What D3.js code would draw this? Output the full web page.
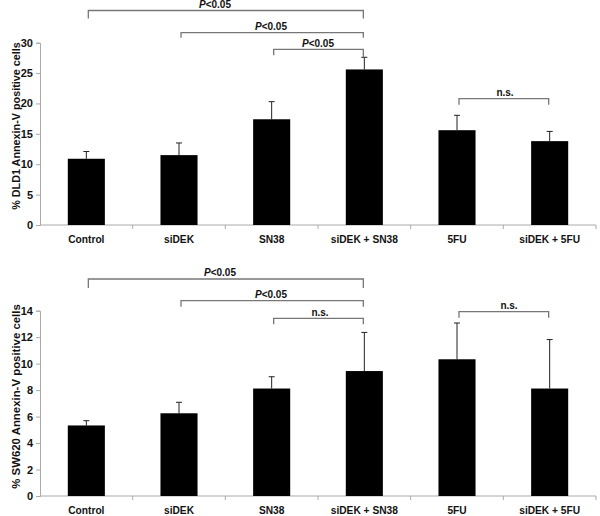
<!DOCTYPE html>
<html>
<head>
<meta charset="utf-8">
<script src="https://cdnjs.cloudflare.com/ajax/libs/d3/7.8.5/d3.min.js"></script>
<style>
  body { margin: 0; background: #fff; }
  text { font-family: "Liberation Sans", Arial, sans-serif; font-weight: bold; }
</style>
</head>
<body>
<script>
// groups shared by both panels
var groups = ["Control", "siDEK", "SN38", "siDEK + SN38", "5FU", "siDEK + 5FU"];

// DLD1 panel
var dldMean = [10.9, 11.5, 17.4, 25.6, 15.6, 13.8];
var dldErr  = [1.2, 2.0, 2.9, 2.0, 2.45, 1.6];
var dldTicks = [0, 5, 10, 15, 20, 25, 30];
// SW620 panel
var swMean = [5.33, 6.25, 8.12, 9.44, 10.33, 8.12];
var swErr  = [0.36, 0.83, 0.89, 2.92, 2.74, 3.7];
var swTicks = [0, 2, 4, 6, 8, 10, 12, 14];

// brackets: [from group, to group, label]
var dldBrackets = [[0, 3, "P<0.05"], [1, 3, "P<0.05"], [2, 3, "P<0.05"], [4, 5, "n.s."]];
var swBrackets  = [[0, 3, "P<0.05"], [1, 3, "P<0.05"], [2, 3, "n.s."], [4, 5, "n.s."]];

var svg = d3.select("body").append("svg")
    .attr("width", 600)
    .attr("height", 516);

function drawPanel(opt){
  var x = d3.scaleBand()
      .domain(groups)
      .range([40, 596])
      .paddingInner(0);
  var y = d3.scaleLinear()
      .domain([0, d3.max(opt.ticks)])
      .range([opt.bottom, opt.top]);

  var g = svg.append("g");

  // y axis
  var ya = g.append("g")
      .attr("transform", "translate(40,0)")
      .call(d3.axisLeft(y).tickValues(opt.ticks).tickSize(4).tickPadding(3));
  ya.select(".domain").attr("stroke", "#aaa");
  ya.selectAll(".tick line").attr("stroke", "#aaa");
  ya.selectAll(".tick text")
    .attr("font-size", "11px")
    .attr("font-family", "Liberation Sans, Arial, sans-serif")
    .attr("font-weight", "bold")
    .attr("fill", "#111");

  // x axis: ticks at band boundaries
  var xa = g.append("g").attr("transform", "translate(0," + opt.bottom + ")");
  xa.append("line")
    .attr("x1", 40).attr("x2", 596)
    .attr("stroke", "#aaa");
  xa.selectAll(".bt")
    .data(groups)
    .enter()
    .append("line")
    .attr("x1", function(d){ return x(d) + x.bandwidth(); })
    .attr("x2", function(d){ return x(d) + x.bandwidth(); })
    .attr("y1", 0).attr("y2", 4)
    .attr("stroke", "#aaa");
  xa.selectAll(".lbl")
    .data(groups)
    .enter()
    .append("text")
    .attr("x", function(d){ return x(d) + x.bandwidth() / 2; })
    .attr("y", 18.3)
    .attr("text-anchor", "middle")
    .attr("font-size", "10.2px")
    .attr("fill", "#111")
    .text(function(d){ return d; });

  var bw = x.bandwidth() * 0.4;

  // error bars (upper only)
  g.selectAll(".err")
    .data(opt.mean)
    .enter()
    .append("line")
    .attr("x1", function(d, i){ return x(groups[i]) + x.bandwidth() / 2; })
    .attr("x2", function(d, i){ return x(groups[i]) + x.bandwidth() / 2; })
    .attr("y1", function(d){ return y(d); })
    .attr("y2", function(d, i){ return y(d + opt.err[i]); })
    .attr("stroke", "#222")
    .attr("stroke-width", 1);
  g.selectAll(".cap")
    .data(opt.mean)
    .enter()
    .append("line")
    .attr("x1", function(d, i){ return x(groups[i]) + x.bandwidth() / 2 - 3; })
    .attr("x2", function(d, i){ return x(groups[i]) + x.bandwidth() / 2 + 3; })
    .attr("y1", function(d, i){ return y(d + opt.err[i]); })
    .attr("y2", function(d, i){ return y(d + opt.err[i]); })
    .attr("stroke", "#222");

  // bars
  g.selectAll(".bar")
    .data(opt.mean)
    .enter()
    .append("rect")
    .attr("x", function(d, i){ return x(groups[i]) + (x.bandwidth() - bw) / 2; })
    .attr("y", function(d){ return y(d); })
    .attr("width", bw)
    .attr("height", function(d){ return opt.bottom - y(d); })
    .attr("fill", "#000");

  // brackets
  opt.brackets.forEach(function(b, i){
    var x1 = x(groups[b[0]]) + x.bandwidth() / 2 + 2;
    var x2 = x(groups[b[1]]) + x.bandwidth() / 2 - 1;
    var by = opt.brY[i];
    g.append("path")
      .attr("d", "M" + x1 + "," + (by + opt.brDrop[i][0]) + "V" + by + "H" + x2 + "V" + (by + opt.brDrop[i][1]))
      .attr("fill", "none")
      .attr("stroke", "#777")
      .attr("stroke-width", 1.3);
    var t = g.append("text")
      .attr("x", opt.brTx[i])
      .attr("y", by - 2.6)
      .attr("text-anchor", "middle")
      .attr("font-size", "10px")
      .attr("fill", "#111");
    if (b[2].charAt(0) == "P"){
      t.append("tspan").attr("font-style", "italic").text("P");
      t.append("tspan").text(b[2].slice(1));
    } else {
      t.text(b[2]);
    }
  });

  // y label
  g.append("text")
    .attr("transform", "translate(" + 20 + "," + opt.labelY + ") rotate(-90)")
    .attr("text-anchor", "middle")
    .attr("font-size", opt.labelSize)
    .attr("fill", "#111")
    .text(opt.label);
}

drawPanel({
  mean: dldMean, err: dldErr, ticks: dldTicks,
  top: 42.7, bottom: 225,
  brackets: dldBrackets,
  brY: [10.5, 32.7, 49.3, 98.7],
  brDrop: [[8, 8], [5, 5], [6, 8], [6, 6]],
  brTx: [215, 271, 318, 505],
  labelY: 126, labelSize: "10.8px",
  label: "% DLD1 Annexin-V positive cells"
});

drawPanel({
  mean: swMean, err: swErr, ticks: swTicks,
  top: 310.7, bottom: 496,
  brackets: swBrackets,
  brY: [279, 300.7, 318.3, 311.7],
  brDrop: [[9, 9], [6, 6], [6, 6], [6, 6]],
  brTx: [220, 271, 320, 509],
  labelY: 396.5, labelSize: "11.4px",
  label: "% SW620 Annexin-V positive cells"
});
</script>
</body>
</html>
